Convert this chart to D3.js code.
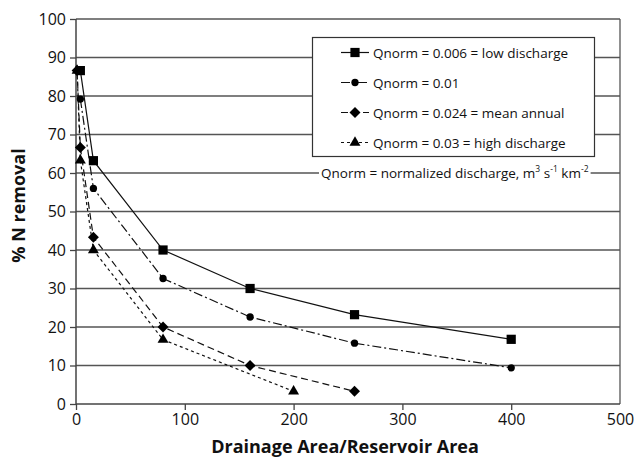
<!DOCTYPE html>
<html lang="en">
<head>
<meta charset="utf-8">
<script src="https://cdn.jsdelivr.net/npm/d3@7/dist/d3.min.js"></script>
<style>
body{margin:0;background:#fff;}
text{font-family:"Open Sans",sans-serif;fill:#111;}
</style>
</head>
<body>
<div id="chart"></div>
<script>
// values
const xLow  = [4, 16, 80, 160, 256, 400]
const yLow  = [86.6, 63.2, 40, 30, 23.2, 16.8]
const xQ01  = [4, 16, 80, 160, 256, 400]
const yQ01  = [79.2, 56, 32.6, 22.6, 15.8, 9.4]
const xMean = [1, 4, 16, 80, 160, 256]
const yMean = [86.6, 66.6, 43.3, 20, 10, 3.3]
const xHigh = [1, 4, 16, 80, 200]
const yHigh = [86.6, 63.3, 40, 16.7, 3.3]
const seriesNames = ["Qnorm = 0.006 = low discharge","Qnorm = 0.01","Qnorm = 0.024 = mean annual","Qnorm = 0.03 = high discharge"]
const xTicks = [0,100,200,300,400,500]
const yTicks = d3.range(0,101,10)

const W=635,H=462
const m={left:76,right:15,top:19,bottom:58}
const svg=d3.select("#chart").append("svg").attr("width",W).attr("height",H)
const x=d3.scaleLinear().domain([0,500]).range([m.left,W-m.right])
const y=d3.scaleLinear().domain([0,100]).range([H-m.bottom,m.top])

// gridlines
svg.append("g").selectAll("line").data(yTicks.filter(d=>d>0)).join("line")
  .attr("x1",x(0)).attr("x2",x(500)).attr("y1",d=>y(d)).attr("y2",d=>y(d))
  .attr("stroke","#555").attr("stroke-width",1.3)
// right border
svg.append("line").attr("x1",x(500)).attr("x2",x(500)).attr("y1",y(100)).attr("y2",y(0))
  .attr("stroke","#555").attr("stroke-width",1.3)

const yAx=svg.append("g").attr("transform",`translate(${x(0)},0)`)
  .call(d3.axisLeft(y).tickValues(yTicks).tickSize(6).tickPadding(4))
const xAx=svg.append("g").attr("transform",`translate(0,${y(0)})`)
  .call(d3.axisBottom(x).tickValues(xTicks).tickSize(6).tickPadding(4))
;[yAx,xAx].forEach(a=>{
  a.select(".domain").attr("stroke","#444").attr("stroke-width",1.5)
  a.selectAll(".tick line").attr("stroke","#444").attr("stroke-width",1.3)
  a.selectAll("text").attr("font-size",16).attr("font-family","Open Sans").attr("fill","#111")
})
xAx.selectAll(".tick").filter(d=>d===500).select("line").attr("y2",0)
xAx.select(".domain").attr("d",`M${x(0)},0H${x(500)}`)
yAx.select(".domain").attr("d",`M0,${y(0)}V${y(100)}`)

// axis titles
svg.append("text").attr("x",345).attr("y",453).attr("text-anchor","middle")
  .attr("font-size",18).attr("font-weight","bold").text("Drainage Area/Reservoir Area")
svg.append("text").attr("transform",`translate(25,${(y(0)+y(100))/2-6}) rotate(-90)`)
  .attr("text-anchor","middle").attr("font-size",18).attr("font-weight","bold").text("% N removal")

const diamond={draw(ctx,size){const r=Math.sqrt(size/2);ctx.moveTo(0,-r);ctx.lineTo(r,0);ctx.lineTo(0,r);ctx.lineTo(-r,0);ctx.closePath()}}
const styles=[
  {dash:null, mark:d3.symbolSquare, size:85},
  {dash:"9,3,2,3", mark:d3.symbolCircle, size:42},
  {dash:"7,4", mark:diamond, size:60},
  {dash:"3,3", mark:d3.symbolTriangle, size:52}
]
const data=[
  d3.zip(xLow,yLow), d3.zip(xQ01,yQ01), d3.zip(xMean,yMean), d3.zip(xHigh,yHigh)
]
const line=d3.line().x(d=>x(d[0])).y(d=>y(d[1]))
const plot=svg.append("g")
data.forEach((s,i)=>{
  plot.append("path").attr("d",line(s)).attr("fill","none").attr("stroke","#111")
    .attr("stroke-width",1.2).attr("stroke-dasharray",styles[i].dash)
})
data.slice().reverse().forEach((s,ri)=>{
  const i=data.length-1-ri
  plot.append("g").selectAll("path").data(s).join("path")
    .attr("transform",d=>`translate(${x(d[0])},${y(d[1])})`)
    .attr("d",d3.symbol().type(styles[i].mark).size(styles[i].size)).attr("fill","#000")
})

// legend
const lg=svg.append("g")
lg.append("rect").attr("x",312.5).attr("y",37.5).attr("width",282).attr("height",119)
  .attr("fill","#fff").attr("stroke","#333").attr("stroke-width",1.2)
seriesNames.forEach((n,i)=>{
  const cy=52.5+i*30
  lg.append("line").attr("x1",341).attr("x2",369).attr("y1",cy).attr("y2",cy)
    .attr("stroke","#111").attr("stroke-width",1.2).attr("stroke-dasharray",styles[i].dash)
  lg.append("path").attr("transform",`translate(355,${cy})`)
    .attr("d",d3.symbol().type(styles[i].mark).size(styles[i].size)).attr("fill","#000")
  lg.append("text").attr("x",373).attr("y",cy+5).attr("font-size",13.5).text(n)
})

// note on the 60 gridline
const note=svg.append("g")
const nt=note.append("text").attr("x",321).attr("y",y(60)+5).attr("font-size",13.5)
nt.append("tspan").text("Qnorm = normalized discharge, m")
nt.append("tspan").attr("font-size",8.5).attr("dy",-6).text("3")
nt.append("tspan").attr("dy",6).text(" s")
nt.append("tspan").attr("font-size",8.5).attr("dy",-6).text("-1")
nt.append("tspan").attr("dy",6).text(" km")
nt.append("tspan").attr("font-size",8.5).attr("dy",-6).text("-2")
const bb=nt.node().getBBox()
note.insert("rect","text").attr("x",bb.x-2).attr("y",y(60)-3).attr("width",bb.width+4).attr("height",6).attr("fill","#fff")
</script>
</body>
</html>
